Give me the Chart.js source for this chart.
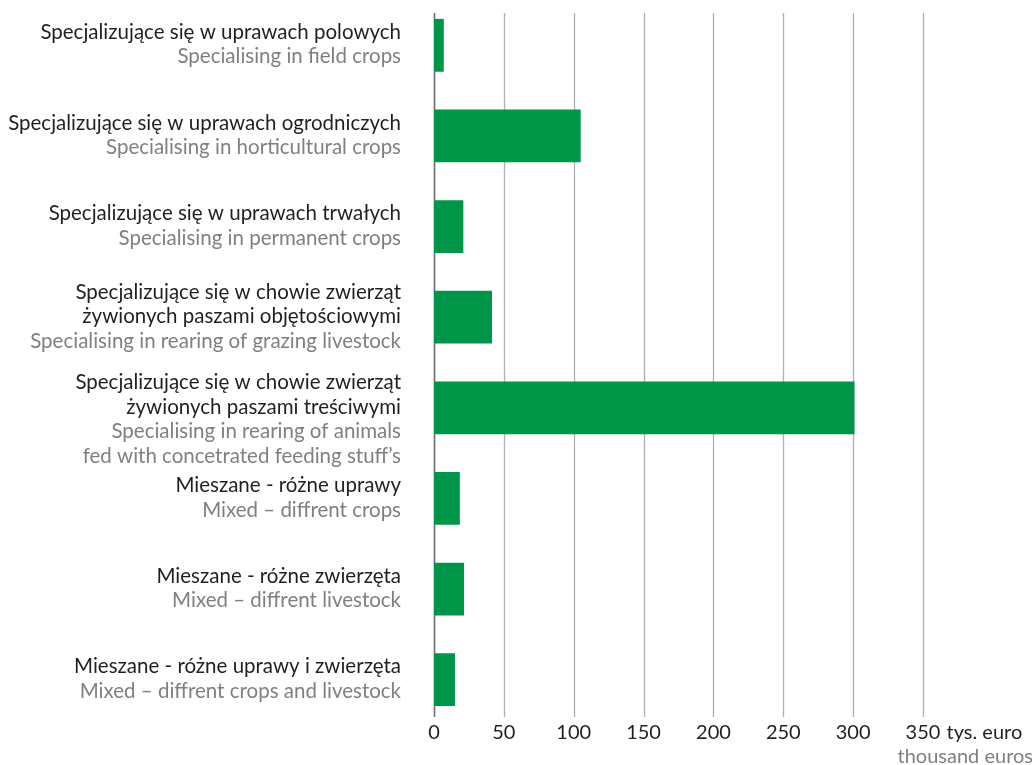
<!DOCTYPE html>
<html>
<head>
<meta charset="utf-8">
<script src="https://cdn.jsdelivr.net/npm/chart.js@4"></script>
<style>
  html, body { margin: 0; padding: 0; background: #fff; }
  #wrap { width: 1036px; height: 765px; }
</style>
</head>
<body>
<div id="wrap"><canvas id="farmChart" width="1036" height="765"></canvas></div>
<script>
// category labels: Polish lines (dark) + English lines (grey)
const labelsPl = [
  ['Specjalizujące się w uprawach polowych'],
  ['Specjalizujące się w uprawach ogrodniczych'],
  ['Specjalizujące się w uprawach trwałych'],
  ['Specjalizujące się w chowie zwierząt', 'żywionych paszami objętościowymi'],
  ['Specjalizujące się w chowie zwierząt', 'żywionych paszami treściwymi'],
  ['Mieszane - różne uprawy'],
  ['Mieszane - różne zwierzęta'],
  ['Mieszane - różne uprawy i zwierzęta']
];
const labelsEn = [
  ['Specialising in field crops'],
  ['Specialising in horticultural crops'],
  ['Specialising in permanent crops'],
  ['Specialising in rearing of grazing livestock'],
  ['Specialising in rearing of animals', 'fed with concetrated feeding stuff’s'],
  ['Mixed – diffrent crops'],
  ['Mixed – diffrent livestock'],
  ['Mixed – diffrent crops and livestock']
];
const values = [7, 105, 21, 41.5, 301, 18.5, 21.5, 15];
const xTicks = [0, 50, 100, 150, 200, 250, 300, 350];
const unitPl = 'tys. euro';
const unitEn = 'thousand euros';

const FONT = 'Lato, "Open Sans", sans-serif';
const DARK = '#231f20';
const GREY = '#808080';

// vertical grid lines, a bit shorter than the plot area
const gridLines = {
  id: 'gridLines',
  beforeDatasetsDraw(chart) {
    const { ctx, chartArea, scales } = chart;
    ctx.save();
    xTicks.forEach(v => {
      const x = Math.round(scales.x.getPixelForValue(v)) + 0.5;
      ctx.beginPath();
      ctx.strokeStyle = v === 0 ? '#6d6d6d' : '#b0b0b0';
      ctx.lineWidth = v === 0 ? 1.6 : 1.3;
      ctx.moveTo(x, chartArea.top + 13);
      ctx.lineTo(x, chartArea.bottom - 8);
      ctx.stroke();
    });
    ctx.restore();
  }
};

// two-colour category labels and the unit text
const sideLabels = {
  id: 'sideLabels',
  afterDraw(chart) {
    const { ctx, scales } = chart;
    ctx.save();
    ctx.font = '20.5px ' + FONT;
    ctx.textAlign = 'right';
    ctx.textBaseline = 'middle';
    const right = 401;
    const lh = 24.5;
    labelsPl.forEach((pl, i) => {
      const lines = pl.map(t => [t, DARK]).concat(labelsEn[i].map(t => [t, GREY]));
      const cy = scales.y.getPixelForValue(i);
      // Polish block sits a little above the bar centre, English follows below
      let y = cy - 13 - (pl.length - 1) * lh / 2;
      lines.forEach(([t, c]) => {
        ctx.fillStyle = c;
        ctx.fillText(t, right, y);
        y += lh;
      });
    });

    // unit next to the last tick, on the tick label line
    ctx.font = '20px ' + FONT;
    const last = xTicks[xTicks.length - 1];
    const x = scales.x.getPixelForValue(last);
    const w = ctx.measureText(String(last)).width;
    const ty = scales.x.top + 8;
    ctx.textAlign = 'left';
    ctx.fillStyle = DARK;
    ctx.fillText(' ' + unitPl, x + w / 2 + 1, ty);
    ctx.textAlign = 'right';
    ctx.fillStyle = GREY;
    ctx.fillText(unitEn, 1033, ty + 24);
    ctx.restore();
  }
};

new Chart(document.getElementById('farmChart'), {
  type: 'bar',
  data: {
    labels: labelsPl.map(l => l.join(' ')),
    datasets: [{
      data: values,
      backgroundColor: '#009649',
      borderWidth: 0,
      barPercentage: 0.583,
      categoryPercentage: 1
    }]
  },
  options: {
    indexAxis: 'y',
    responsive: false,
    animation: false,
    layout: { padding: { left: 434, right: 113, top: 0, bottom: 19 } },
    plugins: { legend: { display: false }, tooltip: { enabled: false } },
    scales: {
      x: {
        type: 'linear',
        min: 0,
        max: 350,
        afterBuildTicks: s => { s.ticks = xTicks.map(v => ({ value: v })); },
        afterFit: s => { s.height = 21; },
        ticks: { color: DARK, font: { family: FONT, size: 20, lineHeight: 1 }, padding: -2 },
        grid: { display: false, drawTicks: false },
        border: { display: false }
      },
      y: {
        type: 'category',
        display: false
      }
    }
  },
  plugins: [gridLines, sideLabels]
});
</script>
</body>
</html>
